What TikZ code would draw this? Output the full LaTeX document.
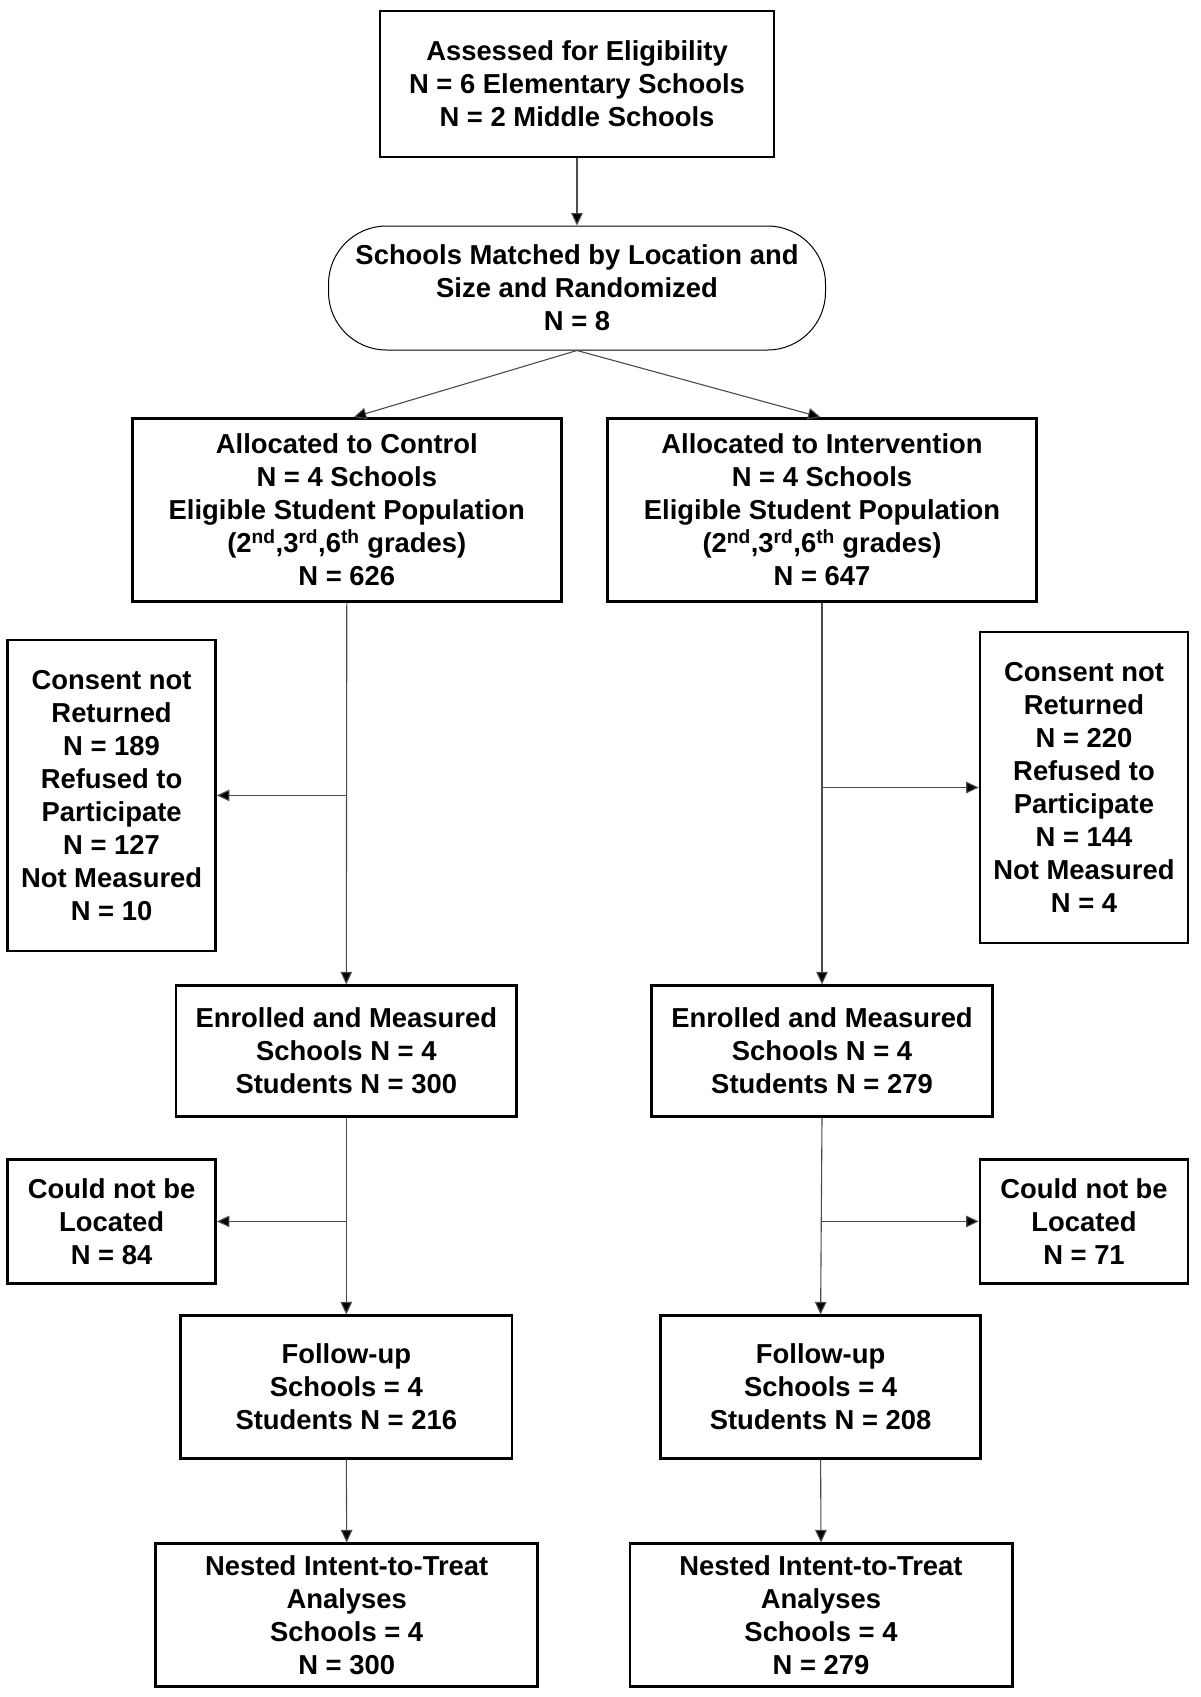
\documentclass[tikz,border=0pt]{standalone}
\usepackage{fontspec}
\setmainfont{Liberation Sans}
\usetikzlibrary{arrows.meta}
\begin{document}
\begin{tikzpicture}[x=1pt,y=-1pt,
  txt/.style={font=\fontsize{27.4}{33}\selectfont\bfseries, align=center, inner sep=0pt},
  box/.style={txt, draw=black, line width=2.7pt},
  rbox/.style={txt, draw=black, line width=1pt, rounded corners=58pt},
  arr/.style={draw=black!70, line width=1.1pt, -{Triangle[length=12.5pt,width=11.5pt,fill=black]}}
]
\useasboundingbox[fill=white] (0,0) rectangle (1200,1697);

\node[box, minimum width=394, minimum height=146] (top) at (577,84)
  {Assessed for Eligibility\\N = 6 Elementary Schools\\N = 2 Middle Schools};
\node[rbox, minimum width=497, minimum height=124] (rnd) at (577,288)
  {Schools Matched by Location and\\Size and Randomized\\N = 8};

\node[box, minimum width=429, minimum height=183] (ctrl) at (346.8,510)
  {Allocated to Control\\N = 4 Schools\\Eligible Student Population\\(2\textsuperscript{nd},3\textsuperscript{rd},6\textsuperscript{th} grades)\\N = 626};
\node[box, minimum width=429, minimum height=183] (intv) at (822,510)
  {Allocated to Intervention\\N = 4 Schools\\Eligible Student Population\\(2\textsuperscript{nd},3\textsuperscript{rd},6\textsuperscript{th} grades)\\N = 647};

\node[box, minimum width=208, minimum height=311] (consL) at (111.6,795.4)
  {Consent not\\Returned\\N = 189\\Refused to\\Participate\\N = 127\\Not Measured\\N = 10};
\node[box, minimum width=208, minimum height=311] (consR) at (1084,787.5)
  {Consent not\\Returned\\N = 220\\Refused to\\Participate\\N = 144\\Not Measured\\N = 4};

\node[box, minimum width=340.6, minimum height=130.6] (enrL) at (346.3,1051)
  {Enrolled and Measured\\Schools N = 4\\Students N = 300};
\node[box, minimum width=340.6, minimum height=130.6] (enrR) at (822,1051)
  {Enrolled and Measured\\Schools N = 4\\Students N = 279};

\node[box, minimum width=208, minimum height=124] (locL) at (111.6,1221.4)
  {Could not be\\Located\\N = 84};
\node[box, minimum width=208, minimum height=124] (locR) at (1084,1221.4)
  {Could not be\\Located\\N = 71};

\node[box, minimum width=331.4, minimum height=142.4] (fuL) at (346.3,1387)
  {Follow-up\\Schools = 4\\Students N = 216};
\node[box, minimum width=320.3, minimum height=142.4] (fuR) at (820.6,1387)
  {Follow-up\\Schools = 4\\Students N = 208};

\node[box, minimum width=382, minimum height=142.4] (nesL) at (346.7,1615)
  {Nested Intent-to-Treat\\Analyses\\Schools = 4\\N = 300};
\node[box, minimum width=382.3, minimum height=142.4] (nesR) at (821,1615)
  {Nested Intent-to-Treat\\Analyses\\Schools = 4\\N = 279};

\draw[arr] (top.south) -- (rnd.north);
\draw[arr] (rnd.south) -- ([xshift=7pt]ctrl.north);
\draw[arr] (rnd.south) -- ([xshift=-1.5pt]intv.north);

\draw[arr] (ctrl.south) -- (enrL.north);
\draw[arr] (intv.south) -- (enrR.north);
\coordinate (jL1) at (ctrl.south |- consL.east);
\coordinate (jR1) at (intv.south |- consR.west);
\draw[arr] (jL1) -- (consL.east);
\draw[arr] (jR1) -- (consR.west);

\draw[arr] (enrL.south) -- (fuL.north);
\draw[arr] (enrR.south) -- (fuR.north);
\coordinate (jL2) at (enrL.south |- locL.east);
\coordinate (jR2) at (enrR.south |- locR.west);
\draw[arr] (jL2) -- (locL.east);
\draw[arr] (jR2) -- (locR.west);

\draw[arr] (fuL.south) -- (nesL.north);
\draw[arr] (fuR.south) -- (nesR.north);
\end{tikzpicture}
\end{document}
